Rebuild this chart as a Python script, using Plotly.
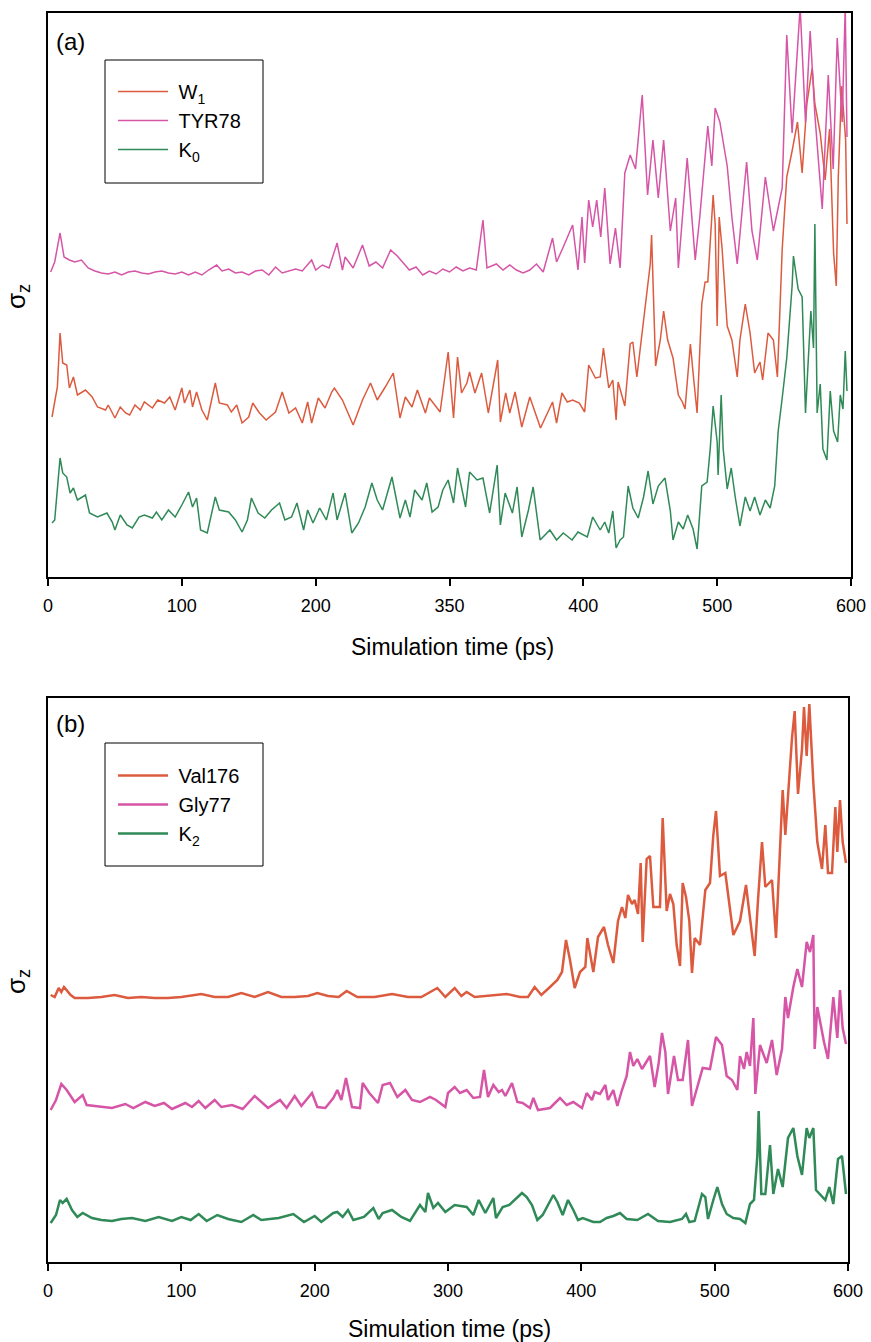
import plotly.graph_objects as go

# ---------------- Panel (a) data (sigma_z, arbitrary units) ----------------
tyr78_t = [2, 5, 9, 12, 16, 20, 25, 30, 35, 40,
           45, 50, 55, 60, 65, 70, 75, 80, 85, 90,
           95, 100, 105, 110, 115, 120, 126, 130, 135, 140,
           145, 150, 155, 160, 165, 170, 175, 180, 185, 190,
           197, 200, 205, 210, 216, 220, 222, 228, 235, 240,
           245, 250, 256, 261, 265, 270, 275, 280, 285, 290,
           295, 300, 305, 310, 315, 320, 325, 328, 335, 340,
           345, 350, 355, 360, 365, 370, 377, 380, 385, 392,
           396, 399, 401, 404, 407, 410, 413, 416, 420, 424,
           427.5, 431, 435, 439, 444, 448, 452, 456, 460, 465,
           469, 471, 477.6, 483.6, 487, 493, 496, 498.5, 502, 507.5,
           511, 515, 522, 526, 530, 536, 542, 548.6, 552, 556,
           562, 566, 569.5, 573, 578.5, 583, 586.7, 589.7, 593.4, 595.7,
           597]
tyr78_v = [3.05, 3.15, 3.44, 3.20, 3.17, 3.15, 3.17, 3.09, 3.06, 3.04,
           3.03, 3.05, 3.02, 3.05, 3.06, 3.04, 3.03, 3.05, 3.06, 3.04,
           3.03, 3.05, 3.02, 3.05, 3.02, 3.07, 3.12, 3.06, 3.08, 3.04,
           3.05, 3.02, 3.06, 3.07, 3.02, 3.10, 3.04, 3.06, 3.08, 3.06,
           3.17, 3.07, 3.12, 3.09, 3.34, 3.07, 3.20, 3.09, 3.32, 3.11,
           3.15, 3.09, 3.27, 3.21, 3.15, 3.07, 3.10, 3.02, 3.06, 3.03,
           3.08, 3.05, 3.10, 3.06, 3.09, 3.07, 3.57, 3.09, 3.13, 3.07,
           3.12, 3.07, 3.04, 3.07, 3.13, 3.05, 3.39, 3.15, 3.30, 3.52,
           3.07, 3.60, 3.14, 3.77, 3.50, 3.77, 3.40, 3.89, 3.13, 3.49,
           3.09, 4.04, 4.22, 4.08, 4.82, 3.82, 4.37, 3.79, 4.37, 3.46,
           3.79, 3.09, 4.19, 3.17, 3.60, 4.51, 4.11, 4.69, 4.55, 4.11,
           3.60, 3.13, 4.15, 3.46, 3.17, 4.00, 3.46, 3.89, 5.42, 4.44,
           5.70, 4.55, 5.46, 4.62, 3.68, 5.02, 4.08, 5.39, 4.55, 5.70,
           4.40]

w1_t = [3, 7, 9, 11, 14, 16, 19, 22, 28, 33,
        37, 43, 45, 50, 54, 58, 61, 65, 69, 72,
        78, 82, 87, 91, 95, 100, 102, 106, 108, 111,
        115, 119, 125, 128, 134, 137, 141, 145, 150, 153,
        158, 163, 170, 175, 180, 185, 190, 194, 197, 202,
        207, 212, 214, 220, 228, 235, 241, 246, 252, 258,
        263, 267, 272, 276, 282, 285, 293, 299, 303, 306,
        309, 313, 315, 319, 324, 329, 336, 338, 342, 345,
        349, 354, 360, 368, 377, 380, 384, 388, 392, 397,
        401, 404, 409, 412.6, 415, 419, 422, 424.5, 426, 431,
        435, 437, 440, 444, 447.5, 450, 451, 453, 454, 457.5,
        460, 463, 467, 471, 474, 476, 480, 482, 485, 488.5,
        491, 493, 497, 498.5, 500, 501.5, 503.7, 507.5, 511, 515,
        517, 521, 524.6, 528, 532, 534, 538, 542, 545, 548.6,
        552, 556, 560, 563.5, 567, 571, 573, 577, 580.7, 584,
        587, 589, 590.5, 593, 596, 597]
w1_v = [1.60, 1.90, 2.44, 2.14, 2.12, 1.89, 2.00, 1.82, 1.87, 1.80,
        1.70, 1.67, 1.72, 1.59, 1.70, 1.64, 1.62, 1.72, 1.67, 1.75,
        1.69, 1.77, 1.74, 1.80, 1.67, 1.89, 1.74, 1.87, 1.70, 1.85,
        1.67, 1.57, 1.94, 1.74, 1.72, 1.65, 1.72, 1.54, 1.60, 1.74,
        1.64, 1.57, 1.65, 1.85, 1.64, 1.69, 1.54, 1.75, 1.54, 1.79,
        1.69, 1.85, 1.89, 1.77, 1.52, 1.77, 1.94, 1.77, 1.90, 2.04,
        1.59, 1.80, 1.70, 1.87, 1.64, 1.79, 1.65, 2.25, 1.59, 2.20,
        1.84, 1.94, 2.05, 1.84, 2.04, 1.64, 2.17, 1.55, 1.84, 1.64,
        1.85, 1.50, 1.80, 1.49, 1.75, 1.54, 1.84, 1.75, 1.77, 1.74,
        1.65, 2.12, 1.99, 2.00, 2.29, 1.89, 1.97, 1.57, 1.95, 1.71,
        2.33, 2.35, 2.00, 2.44, 2.88, 3.13, 3.42, 2.55, 2.11, 2.37,
        2.66, 2.37, 2.19, 1.82, 1.75, 1.68, 2.33, 2.04, 1.64, 2.73,
        2.95, 2.95, 3.82, 3.53, 2.51, 3.60, 3.28, 2.51, 2.37, 2.00,
        2.37, 2.73, 2.44, 2.04, 2.15, 1.97, 2.44, 2.37, 2.00, 3.28,
        4.00, 4.26, 4.55, 4.04, 4.73, 5.09, 4.73, 4.44, 3.97, 4.48,
        3.24, 2.91, 4.00, 4.91, 4.37, 3.53]

k0_t = [3, 5, 9, 11, 14, 16.5, 19, 22, 28, 31,
        37, 44, 48, 50, 54, 59, 63, 68, 72, 78,
        81, 85, 90, 95, 100, 105, 108, 111, 114, 119,
        125, 128, 135, 140, 145, 149, 152, 157, 162, 167,
        173, 177, 182, 186, 191, 194, 198, 203, 208, 213,
        216, 222, 227, 232, 237, 242, 246, 250, 257, 263,
        267, 270.5, 274, 279.5, 283, 287, 291.5, 295, 299, 303,
        306, 312, 315, 320.6, 325, 330, 335.6, 338, 341.6, 347,
        350.5, 354, 359, 362.5, 367.7, 375, 380, 385, 391.6, 396,
        403, 407, 412.6, 416, 419, 422, 424.5, 427.5, 430, 433.5,
        437, 441, 445, 448.4, 452, 456, 461, 465, 467, 471,
        474.6, 478, 482, 485, 488.5, 492.5, 494.8, 497, 500, 500.7,
        503, 504.5, 507.5, 510.5, 513.5, 517, 521, 524.6, 528, 532,
        536, 539.6, 543, 545.6, 548.6, 552, 556, 557, 560.5, 563.5,
        566, 568, 570, 572, 573, 574.7, 577, 579, 582, 584.5,
        587, 590, 592, 594, 595.7, 597]
k0_v = [0.54, 0.57, 1.19, 1.04, 1.00, 0.84, 0.89, 0.77, 0.82, 0.64,
        0.60, 0.64, 0.55, 0.47, 0.62, 0.52, 0.49, 0.60, 0.62, 0.59,
        0.65, 0.57, 0.67, 0.60, 0.72, 0.85, 0.70, 0.79, 0.47, 0.44,
        0.80, 0.67, 0.65, 0.57, 0.45, 0.57, 0.79, 0.64, 0.59, 0.67,
        0.74, 0.57, 0.60, 0.74, 0.47, 0.67, 0.54, 0.69, 0.57, 0.84,
        0.57, 0.84, 0.44, 0.54, 0.70, 0.94, 0.77, 0.67, 1.00, 0.59,
        0.77, 0.60, 0.87, 0.77, 0.94, 0.65, 0.70, 0.87, 0.97, 0.74,
        1.09, 0.70, 1.05, 0.97, 0.99, 0.64, 1.12, 0.52, 0.84, 0.64,
        0.90, 0.40, 0.67, 0.90, 0.37, 0.47, 0.37, 0.44, 0.37, 0.45,
        0.40, 0.60, 0.47, 0.55, 0.44, 0.66, 0.29, 0.37, 0.40, 0.91,
        0.69, 0.59, 0.80, 1.06, 0.73, 0.91, 0.99, 0.66, 0.37, 0.55,
        0.48, 0.62, 0.48, 0.28, 0.91, 0.95, 1.28, 1.71, 1.35, 1.02,
        1.82, 1.28, 0.88, 1.09, 0.80, 0.51, 0.80, 0.66, 0.80, 0.62,
        0.77, 0.69, 0.91, 1.46, 1.79, 2.19, 2.91, 3.21, 2.88, 2.80,
        1.64, 2.22, 2.66, 2.29, 3.53, 1.64, 1.93, 1.28, 1.17, 1.86,
        1.46, 1.35, 1.82, 1.68, 2.26, 1.86]

# ---------------- Panel (b) data ----------------
val176_t = [2, 5, 8, 10, 12, 14, 17, 20, 30, 40,
            50, 60, 70, 80, 90, 100, 115, 125, 135, 145,
            155, 165, 175, 185, 195, 202, 210, 218, 224, 232,
            245, 258, 270, 280, 292, 298, 305, 310, 314, 320,
            330, 344, 354, 360, 365, 370, 376.5, 382, 385.5, 388.5,
            391.5, 395, 399, 403, 404.5, 409, 412.5, 417, 420, 424,
            427.5, 430.5, 433, 435, 438, 440, 442.5, 444.5, 446, 449,
            451.5, 454, 459, 461, 464, 466.5, 469, 471.5, 474, 476,
            478.5, 481, 483, 485, 489, 493, 496.5, 499, 501, 504,
            508, 511.5, 514, 519, 523.5, 526.5, 530, 532.5, 535.5, 538,
            543, 546, 549, 551, 553, 555, 558, 560, 562.5, 565.5,
            567, 569, 571, 574, 577, 580.5, 583, 585, 588, 590.5,
            592, 594, 596, 598.5]
val176_v = [2.67, 2.65, 2.74, 2.70, 2.75, 2.72, 2.67, 2.64, 2.64, 2.65,
            2.67, 2.64, 2.65, 2.64, 2.64, 2.65, 2.68, 2.65, 2.65, 2.69,
            2.65, 2.70, 2.65, 2.65, 2.66, 2.69, 2.66, 2.65, 2.71, 2.65,
            2.65, 2.68, 2.65, 2.65, 2.74, 2.65, 2.74, 2.66, 2.70, 2.65,
            2.66, 2.68, 2.65, 2.65, 2.75, 2.67, 2.75, 2.82, 2.90, 3.22,
            3.02, 2.74, 2.90, 2.95, 3.24, 2.90, 3.25, 3.35, 3.17, 2.99,
            3.41, 3.55, 3.44, 3.67, 3.58, 3.62, 3.48, 3.99, 3.20, 4.03,
            4.06, 3.55, 3.55, 4.44, 3.51, 3.68, 3.58, 3.17, 2.96, 3.79,
            3.65, 3.41, 2.89, 3.24, 3.17, 3.72, 3.79, 4.27, 4.51, 3.86,
            3.89, 3.51, 3.27, 3.41, 3.77, 3.44, 3.06, 3.62, 4.20, 3.75,
            3.82, 3.24, 4.10, 4.72, 4.27, 4.68, 5.24, 5.51, 4.68, 5.13,
            5.55, 5.06, 5.58, 4.79, 4.20, 3.93, 4.37, 3.89, 3.89, 4.55,
            4.10, 4.62, 4.20, 3.99]

gly77_t = [2, 6, 10, 14, 20, 26, 29, 40, 48, 58,
           64, 73, 80, 87, 93, 103, 108, 113, 118, 125,
           130, 138, 146, 155, 165, 174, 179, 185, 190, 198,
           202, 208, 214, 217, 220, 223.5, 228, 234, 236, 241,
           247.5, 251, 256.5, 262, 268, 273, 279, 286.5, 291, 298,
           300, 305, 309, 314, 319, 324, 327, 330, 334, 338,
           340.5, 343, 348, 352, 356, 361.5, 364, 367.5, 376.5, 384,
           389, 394, 400.5, 404, 408, 410, 414, 418, 420, 424,
           427, 430.5, 434, 436.5, 439, 442, 445.5, 451.5, 455, 458,
           460.5, 463, 465, 469.5, 472.5, 476, 480, 483, 486.5, 491,
           496.5, 501, 505.5, 509, 513, 517, 519, 522, 524, 526.5,
           529, 530.5, 534, 539, 543, 546.5, 550.5, 553, 555, 559,
           562, 565.5, 569, 571.5, 574, 575, 577, 580, 582, 585,
           589, 592, 594, 596, 598.5]
gly77_v = [1.52, 1.62, 1.78, 1.72, 1.60, 1.67, 1.57, 1.55, 1.54, 1.58,
           1.54, 1.60, 1.56, 1.59, 1.53, 1.59, 1.55, 1.61, 1.54, 1.62,
           1.55, 1.57, 1.53, 1.66, 1.54, 1.62, 1.54, 1.66, 1.56, 1.69,
           1.55, 1.54, 1.64, 1.72, 1.62, 1.84, 1.55, 1.54, 1.79, 1.69,
           1.59, 1.77, 1.79, 1.65, 1.72, 1.62, 1.60, 1.65, 1.62, 1.55,
           1.69, 1.75, 1.69, 1.72, 1.64, 1.65, 1.92, 1.65, 1.77, 1.70,
           1.72, 1.66, 1.79, 1.60, 1.59, 1.54, 1.64, 1.52, 1.54, 1.64,
           1.57, 1.60, 1.54, 1.69, 1.62, 1.70, 1.68, 1.77, 1.62, 1.72,
           1.56, 1.72, 1.86, 2.10, 1.96, 2.03, 1.93, 2.06, 1.75, 1.99,
           2.29, 2.10, 1.68, 2.06, 1.82, 1.82, 2.22, 1.56, 1.72, 1.94,
           1.93, 2.25, 2.17, 1.86, 1.82, 1.72, 2.06, 1.93, 2.10, 1.96,
           2.44, 1.68, 2.17, 1.99, 2.22, 1.87, 2.13, 2.65, 2.44, 2.75,
           2.93, 2.75, 3.20, 3.10, 3.27, 2.13, 2.55, 2.34, 2.20, 2.03,
           2.65, 2.24, 2.72, 2.34, 2.18]

k2_t = [2, 6, 9, 11, 14, 18, 22, 26, 33, 40,
        48, 55, 63, 73, 83, 93, 100, 107, 113, 119,
        127, 135, 145, 154, 160, 173, 184, 192, 200, 205,
        214, 217, 221, 225, 229, 237, 244, 248, 251, 258,
        265, 271.5, 279, 283, 285, 289, 292.5, 298, 305, 314,
        319, 323, 328, 334, 336, 341, 346, 352, 355.5, 359,
        363, 367, 371, 379, 382, 386, 390, 394, 397.5, 401,
        409, 414, 419, 424, 429, 434, 442, 450, 457.5, 466.5,
        475.5, 478.5, 481, 485, 490.5, 493, 495, 499, 502, 505.5,
        509, 514, 519, 523, 526.5, 529.5, 532, 533, 535, 538,
        541.5, 544, 547.5, 551, 555, 559, 562, 565.5, 569, 571,
        574, 576, 579, 583, 586, 589, 592.5, 595.5, 598.5]
k2_v = [0.39, 0.47, 0.62, 0.59, 0.63, 0.52, 0.45, 0.49, 0.44, 0.42,
        0.41, 0.43, 0.44, 0.41, 0.45, 0.41, 0.45, 0.42, 0.48, 0.41,
        0.47, 0.43, 0.40, 0.47, 0.42, 0.44, 0.48, 0.40, 0.46, 0.40,
        0.49, 0.50, 0.45, 0.52, 0.42, 0.45, 0.54, 0.43, 0.49, 0.52,
        0.45, 0.41, 0.57, 0.50, 0.69, 0.54, 0.59, 0.50, 0.57, 0.55,
        0.47, 0.62, 0.49, 0.64, 0.44, 0.55, 0.57, 0.64, 0.69, 0.65,
        0.57, 0.42, 0.47, 0.67, 0.60, 0.47, 0.62, 0.52, 0.42, 0.44,
        0.40, 0.40, 0.44, 0.46, 0.49, 0.43, 0.42, 0.48, 0.41, 0.40,
        0.43, 0.48, 0.40, 0.41, 0.68, 0.65, 0.43, 0.62, 0.75, 0.58,
        0.48, 0.44, 0.43, 0.39, 0.58, 0.62, 1.06, 1.51, 0.68, 0.68,
        1.17, 0.68, 0.93, 0.75, 1.24, 1.34, 1.06, 0.87, 1.34, 1.24,
        1.34, 0.72, 0.68, 0.62, 0.75, 0.58, 1.03, 1.06, 0.68]

x_tickvals = [0, 100, 200, 300, 400, 500, 600]
a_ticktext = ["0", "100", "200", "350", "400", "500", "600"]
b_ticktext = ["0", "100", "200", "300", "400", "500", "600"]

RED = "#DC5B3F"
PINK = "#D655A6"
GREEN = "#2F8A57"
FONT = "Liberation Sans, Arial, Helvetica, sans-serif"

W, H = 871, 1342

fig = go.Figure()

def add(t, v, name, color, width, xa, ya, leg, grp):
    fig.add_trace(go.Scatter(x=t, y=v, mode="lines", name=name,
                             line=dict(color=color, width=width),
                             xaxis=xa, yaxis=ya, legend=leg, legendgroup=grp))

add(w1_t, w1_v, "&nbsp;W<sub>1</sub>", RED, 1.5, "x", "y", "legend", "a1")
add(tyr78_t, tyr78_v, "&nbsp;TYR78", PINK, 1.5, "x", "y", "legend", "a2")
add(k0_t, k0_v, "&nbsp;K<sub>0</sub>", GREEN, 1.5, "x", "y", "legend", "a3")
add(val176_t, val176_v, "&nbsp;Val176", RED, 2.5, "x2", "y2", "legend2", "b1")
add(gly77_t, gly77_v, "&nbsp;Gly77", PINK, 2.5, "x2", "y2", "legend2", "b2")
add(k2_t, k2_v, "&nbsp;K<sub>2</sub>", GREEN, 2.5, "x2", "y2", "legend2", "b3")

def px_x(p):
    return p / W

def px_y(p):
    return 1 - p / H

xcommon = dict(range=[0, 600], tickvals=x_tickvals, ticks="outside", ticklen=7,
               tickwidth=1.5, tickcolor="black", showline=True, linecolor="black",
               linewidth=2, mirror=True, showgrid=False, zeroline=False,
               tickfont=dict(family=FONT, size=18, color="black"),
               ticklabelstandoff=4, automargin=False, fixedrange=True)
ycommon = dict(range=[0, 5.64], showticklabels=False, ticks="", showline=True,
               linecolor="black", linewidth=2, mirror=True, showgrid=False,
               zeroline=False, automargin=False, fixedrange=True)

legcommon = dict(bgcolor="rgba(0,0,0,0)", borderwidth=0, xanchor="left",
                 yanchor="top", tracegroupgap=0,
                 font=dict(family=FONT, size=20, color="black"), itemwidth=50)

fig.update_layout(
    width=W, height=H, template="none",
    paper_bgcolor="white", plot_bgcolor="white",
    margin=dict(l=0, r=0, t=0, b=0),
    xaxis=dict(domain=[px_x(48), px_x(851)], anchor="y", ticktext=a_ticktext, **xcommon),
    yaxis=dict(domain=[px_y(577), px_y(13)], anchor="x", **ycommon),
    xaxis2=dict(domain=[px_x(48), px_x(848)], anchor="y2", ticktext=b_ticktext, **xcommon),
    yaxis2=dict(domain=[px_y(1262), px_y(698)], anchor="x2", **ycommon),
    legend=dict(x=px_x(113), y=px_y(72), **legcommon),
    legend2=dict(x=px_x(113), y=px_y(756), **legcommon),
    showlegend=True,
    shapes=[
        dict(type="rect", xref="paper", yref="paper", x0=px_x(105), x1=px_x(263),
             y0=px_y(183), y1=px_y(60), line=dict(color="black", width=1)),
        dict(type="rect", xref="paper", yref="paper", x0=px_x(105), x1=px_x(263),
             y0=px_y(866), y1=px_y(743), line=dict(color="black", width=1)),
    ],
    annotations=[
        dict(text="Simulation time (ps)", x=px_x(452), y=px_y(647), xref="paper", yref="paper",
             showarrow=False, xanchor="center", yanchor="middle",
             font=dict(family=FONT, size=23, color="black")),
        dict(text="Simulation time (ps)", x=px_x(450), y=px_y(1329), xref="paper", yref="paper",
             showarrow=False, xanchor="center", yanchor="middle",
             font=dict(family=FONT, size=23, color="black")),
        dict(text="σ<sub>z</sub>", x=px_x(17), y=px_y(297), xref="paper", yref="paper",
             showarrow=False, textangle=-90, xanchor="center", yanchor="middle",
             font=dict(family=FONT, size=26, color="black")),
        dict(text="σ<sub>z</sub>", x=px_x(17), y=px_y(982), xref="paper", yref="paper",
             showarrow=False, textangle=-90, xanchor="center", yanchor="middle",
             font=dict(family=FONT, size=26, color="black")),
        dict(text="(a)", x=px_x(54), y=px_y(41), xref="paper", yref="paper",
             showarrow=False, xanchor="left", yanchor="middle",
             font=dict(family=FONT, size=24, color="black")),
        dict(text="(b)", x=px_x(54), y=px_y(723), xref="paper", yref="paper",
             showarrow=False, xanchor="left", yanchor="middle",
             font=dict(family=FONT, size=24, color="black")),
    ],
)

fig.write_html("out.html",
               config={"displayModeBar": False},
               post_script="document.body.style.margin='0';document.body.style.overflow='hidden';")
